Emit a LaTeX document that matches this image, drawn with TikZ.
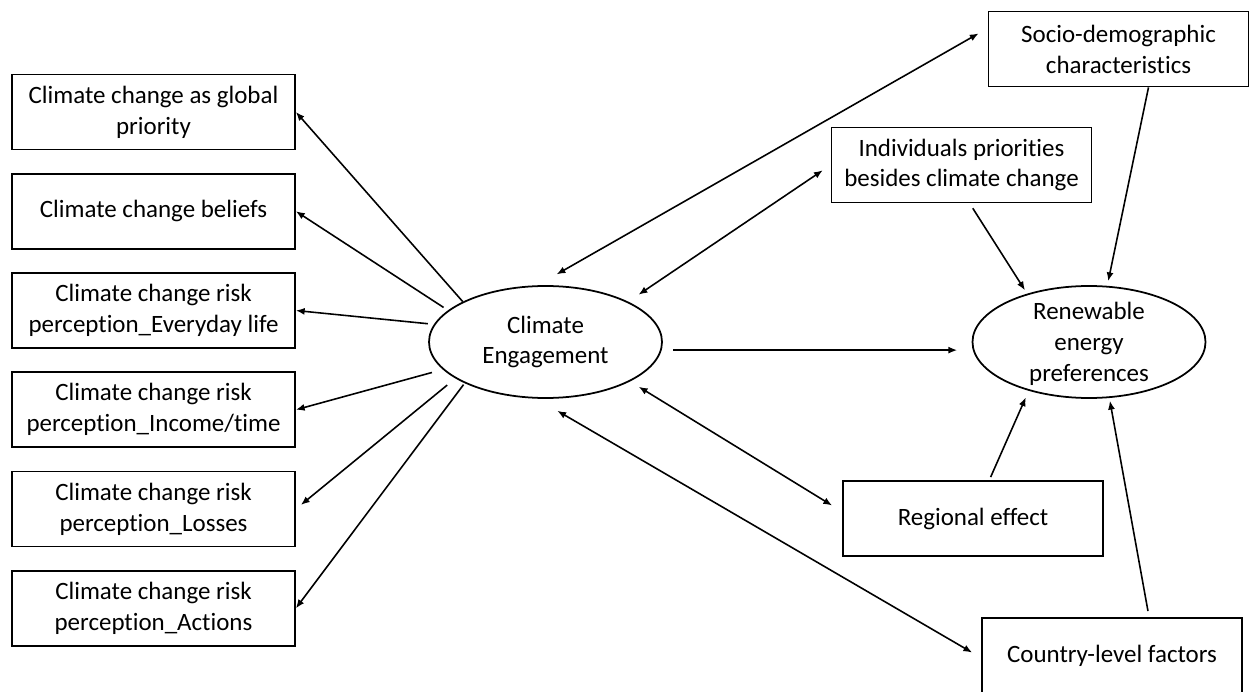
\documentclass[tikz,border=0pt]{standalone}
\usepackage{fontspec}
\setmainfont{Carlito}[Ligatures=NoCommon]
\usetikzlibrary{positioning,shapes.geometric,arrows.meta}

\begin{document}
\begin{tikzpicture}[
    txt/.style={font=\fontsize{14.2}{17.6}\selectfont,align=center},
    box/.style={draw,line width=1pt,minimum width=5.66cm,minimum height=1.5cm,txt},
    rbox/.style={box,minimum width=5.2cm},
    latent/.style={draw,ellipse,line width=1pt,minimum width=4.66cm,minimum height=2.24cm,inner sep=0pt},
    arr/.style={line width=0.9pt,-{Latex[length=5pt,width=4pt]}},
    dbl/.style={line width=0.9pt,{Latex[length=5pt,width=4pt]}-{Latex[length=5pt,width=4pt]}}
  ]
  \useasboundingbox (0,0) rectangle (25.14,13.82);

  %% indicators of climate engagement
  \node[box] (glob) at (3.07,11.58) {Climate change as global\\priority};
  \node[box,below=0.45cm of glob] (beliefs) {Climate change beliefs};
  \node[box,below=0.45cm of beliefs] (riskLife) {Climate change risk\\perception\_Everyday life};
  \node[box,below=0.45cm of riskLife] (riskInc) {Climate change risk\\perception\_Income/time};
  \node[box,below=0.45cm of riskInc] (riskLoss) {Climate change risk\\perception\_Losses};
  \node[box,below=0.45cm of riskLoss] (riskAct) {Climate change risk\\perception\_Actions};

  %% latent variables
  \node[latent,label={[txt]center:{Climate\\Engagement}}] (ce) at (10.91,6.98) {};
  \node[latent,label={[txt,yshift=-1pt]center:{Renewable\\energy\\preferences}}] (rep) at (21.78,6.98) {};

  %% covariates
  \node[rbox] (socio) at (22.37,12.84) {Socio-demographic\\characteristics};
  \node[rbox] (indiv) at (19.23,10.52) {Individuals priorities\\besides climate change};
  \node[rbox] (region) at (19.46,3.45) {Regional effect};
  \node[rbox] (country) at (22.24,0.71) {Country-level factors};

  %% measurement part
  \draw[arr] (ce.154) -- (glob.east);
  \draw[arr,shorten <=3pt] (ce.162) -- (beliefs.east);
  \draw[arr,shorten <=3.5pt] (ce.171) -- (riskLife.east);
  \draw[arr,shorten <=6.4pt] (ce.195) -- (riskInc.east);
  \draw[arr,shorten <=6pt,shorten >=3.7pt] (ce.202) -- (riskLoss.east);
  \draw[arr,shorten <=1pt] (ce.207) -- (riskAct.east);

  %% structural part
  \draw[dbl,shorten <=12.5pt,shorten >=5.9pt] (ce.98) -- (socio.171);
  \draw[dbl,shorten <=7.1pt,shorten >=5.4pt] (ce.26) -- (indiv.west);
  \draw[arr,shorten <=6.6pt,shorten >=8.9pt] (ce.-4) -- (rep.184);
  \draw[dbl,shorten <=5.8pt,shorten >=6.7pt] (ce.-25) -- (region.177);
  \draw[dbl,shorten <=13.7pt,shorten >=5.9pt] (ce.261) -- (country.181);
  \draw[arr,shorten >=2.7pt] (socio.-52) -- (rep.72);
  \draw[arr,shorten <=3.3pt,shorten >=2.3pt] (indiv.-78) -- (rep.142);
  \draw[arr,shorten <=1.9pt,shorten >=4.1pt] (region.67) -- (rep.219);
  \draw[arr,shorten <=3.5pt,shorten >=1.6pt] (country.46) -- (rep.290);
\end{tikzpicture}
\end{document}
